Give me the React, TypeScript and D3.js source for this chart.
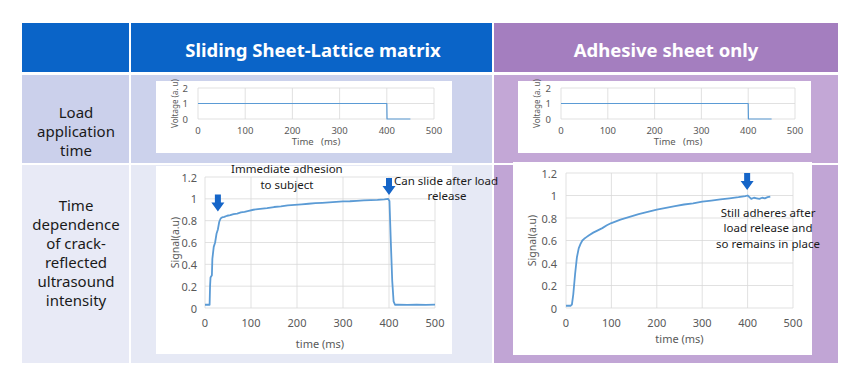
import React, { useRef, useEffect } from 'react';
import * as d3 from 'd3';

// ---- data ----
const timeTicks = [0, 100, 200, 300, 400, 500];
const voltageTicks = [0, 1, 2];
const signalTicks = [0, 0.2, 0.4, 0.6, 0.8, 1, 1.2];

const voltageTime = [0, 400, 400.5, 450];
const voltageValue = [1, 1, 0, 0];

const slidingTime = [0, 5, 10, 11, 12, 15, 16, 19, 22, 25, 28, 31, 34, 37, 42, 48, 55, 62, 70, 78, 86, 95, 105, 115, 125, 135, 150, 165, 180, 195, 210, 225, 240, 255, 270, 285, 300, 315, 330, 345, 360, 375, 390, 398, 401, 404, 407, 410, 413, 420, 440, 460, 480, 500];
const slidingValue = [0.03, 0.03, 0.03, 0.2, 0.28, 0.3, 0.45, 0.56, 0.6, 0.68, 0.72, 0.79, 0.82, 0.83, 0.835, 0.845, 0.85, 0.86, 0.865, 0.875, 0.88, 0.89, 0.9, 0.905, 0.91, 0.915, 0.925, 0.93, 0.94, 0.945, 0.95, 0.955, 0.96, 0.963, 0.967, 0.972, 0.976, 0.978, 0.982, 0.985, 0.988, 0.99, 0.995, 1.0, 0.98, 0.6, 0.25, 0.06, 0.03, 0.03, 0.028, 0.03, 0.028, 0.03];

const adhesiveTime = [0, 10, 13, 16, 20, 24, 28, 32, 36, 40, 45, 50, 60, 70, 80, 90, 100, 120, 140, 160, 180, 200, 220, 240, 260, 280, 300, 320, 340, 360, 380, 395, 400, 404, 408, 414, 420, 426, 432, 438, 444, 450];
const adhesiveValue = [0.02, 0.02, 0.03, 0.12, 0.3, 0.45, 0.53, 0.57, 0.6, 0.615, 0.63, 0.645, 0.67, 0.69, 0.71, 0.735, 0.755, 0.785, 0.81, 0.835, 0.855, 0.875, 0.89, 0.905, 0.92, 0.93, 0.945, 0.955, 0.965, 0.975, 0.985, 0.995, 1.0, 0.985, 0.97, 0.98, 0.975, 0.97, 0.98, 0.975, 0.985, 0.99];

// arrows: [time, tipValue]
const slidingArrows: [number, number][] = [[28, 0.885], [400, 1.035]];
const adhesiveArrows: [number, number][] = [[399, 1.05]];

// notes: [text, time, value, anchor]
const slidingNotes: [string, number, number, string][] = [
  ['Immediate adhesion', 178, 1.275, 'middle'],
  ['to subject', 178, 1.135, 'middle'],
  ['Can slide after load', 411, 1.165, 'start'],
  ['release', 526, 1.035, 'middle'],
];
const adhesiveNotes: [string, number, number, string][] = [
  ['Still adheres after', 445, 0.848, 'middle'],
  ['load release and', 445, 0.712, 'middle'],
  ['so remains in place', 445, 0.576, 'middle'],
];

const FONT = '"Noto Sans", "Open Sans", sans-serif';

interface ChartSpec {
  x0: number; x1: number; y0: number; y1: number;
  yMax: number;
  yTicks: number[];
  yFormat: (v: number) => string;
  times: number[];
  values: number[];
  tickSize: number;
  xTitle: string; xTitleY: number;
  yTitle: string; yTitleX: number; yTitleSize: number;
  xLabelY: number;
  yLabelGap: number;
  lineWidth: number;
  arrows?: [number, number][];
  notes?: [string, number, number, string][];
}

function drawChart(svg: d3.Selection<SVGSVGElement, unknown, null, undefined>, s: ChartSpec) {
  const g = svg.append('g');
  const x = d3.scaleLinear().domain([0, 500]).range([s.x0, s.x1]);
  const y = d3.scaleLinear().domain([0, s.yMax]).range([s.y0, s.y1]);

  // gridlines
  g.selectAll('.hg').data(s.yTicks).join('line')
    .attr('x1', s.x0).attr('x2', s.x1)
    .attr('y1', d => y(d)).attr('y2', d => y(d))
    .attr('stroke', '#d9d9d9').attr('stroke-width', 0.8);
  g.selectAll('.vg').data(timeTicks).join('line')
    .attr('x1', d => x(d)).attr('x2', d => x(d))
    .attr('y1', s.y0).attr('y2', s.y1)
    .attr('stroke', '#d9d9d9').attr('stroke-width', 0.8);

  // tick labels
  g.selectAll('.xl').data(timeTicks).join('text')
    .attr('x', d => x(d)).attr('y', s.xLabelY)
    .attr('text-anchor', 'middle').attr('dominant-baseline', 'central')
    .attr('font-size', s.tickSize).attr('fill', '#595959').attr('font-family', FONT)
    .text(d => String(d));
  g.selectAll('.yl').data(s.yTicks).join('text')
    .attr('x', s.x0 - s.yLabelGap).attr('y', d => y(d))
    .attr('text-anchor', 'end').attr('dominant-baseline', 'central')
    .attr('font-size', s.tickSize).attr('fill', '#595959').attr('font-family', FONT)
    .text(d => s.yFormat(d));

  // titles
  g.append('text')
    .attr('x', (s.x0 + s.x1) / 2).attr('y', s.xTitleY)
    .attr('text-anchor', 'middle').attr('dominant-baseline', 'central')
    .attr('font-size', s.tickSize).attr('fill', '#595959').attr('font-family', FONT)
    .attr('xml:space', 'preserve')
    .text(s.xTitle);
  g.append('text')
    .attr('transform', `translate(${s.yTitleX},${(s.y0 + s.y1) / 2}) rotate(-90)`)
    .attr('text-anchor', 'middle').attr('dominant-baseline', 'central')
    .attr('font-size', s.yTitleSize).attr('fill', '#595959').attr('font-family', FONT)
    .text(s.yTitle);

  // series
  const line = d3.line<number>()
    .x((_, i) => x(s.times[i]))
    .y(d => y(d));
  g.append('path')
    .datum(s.values)
    .attr('fill', 'none')
    .attr('stroke', '#5b9bd5')
    .attr('stroke-width', s.lineWidth)
    .attr('stroke-linejoin', 'round')
    .attr('d', line);

  // block arrows
  (s.arrows || []).forEach(([t, v]) => {
    const cx = x(t), tip = y(v);
    const p = d3.path();
    p.moveTo(cx - 3, tip - 17);
    p.lineTo(cx + 3, tip - 17);
    p.lineTo(cx + 3, tip - 9);
    p.lineTo(cx + 6.5, tip - 9);
    p.lineTo(cx, tip);
    p.lineTo(cx - 6.5, tip - 9);
    p.lineTo(cx - 3, tip - 9);
    p.closePath();
    g.append('path').attr('d', p.toString()).attr('fill', '#1565c8');
  });

  (s.notes || []).forEach(([txt, t, v, anchor]) => {
    g.append('text')
      .attr('x', x(t)).attr('y', y(v))
      .attr('text-anchor', anchor).attr('dominant-baseline', 'central')
      .attr('font-size', 11.5).attr('fill', '#1a1a1a').attr('font-family', FONT)
      .text(txt);
  });
}

const fmtInt = (v: number) => String(v);
const fmtSig = (v: number) => (v === 0 || v === 1 ? String(v) : d3.format('.1f')(v));

export default function App() {
  const ref = useRef<SVGSVGElement | null>(null);

  useEffect(() => {
    if (!ref.current) return;
    const svg = d3.select(ref.current);
    svg.selectAll('*').remove();

    // table background
    const cells: [number, number, number, number, string][] = [
      [22, 23, 107, 49, '#0a64c8'],
      [131, 23, 361, 49, '#0a64c8'],
      [494, 23, 344, 49, '#a47ebf'],
      [22, 75, 107, 88, '#cbd0eb'],
      [131, 75, 361, 88, '#ccd2ec'],
      [494, 75, 344, 88, '#c3a7d6'],
      [22, 165, 107, 198, '#e8eaf6'],
      [131, 165, 361, 198, '#e6e9f5'],
      [494, 165, 344, 198, '#c1a5d5'],
    ];
    svg.selectAll('.cell').data(cells).join('rect')
      .attr('x', d => d[0]).attr('y', d => d[1])
      .attr('width', d => d[2]).attr('height', d => d[3])
      .attr('fill', d => d[4]);

    // headers
    [['Sliding Sheet-Lattice matrix', 313], ['Adhesive sheet only', 666]].forEach(([t, cx]) => {
      svg.append('text')
        .attr('x', cx).attr('y', 49)
        .attr('text-anchor', 'middle').attr('dominant-baseline', 'central')
        .attr('font-size', 18.5).attr('font-weight', 'bold').attr('fill', '#ffffff')
        .attr('font-family', FONT)
        .text(t as string);
    });

    // row labels
    const rowLabels: [string[], number][] = [
      [['Load', 'application', 'time'], 112],
      [['Time', 'dependence', 'of crack-', 'reflected', 'ultrasound', 'intensity'], 205],
    ];
    rowLabels.forEach(([lines, top]) => {
      lines.forEach((ln, i) => {
        svg.append('text')
          .attr('x', 76).attr('y', top + i * 19)
          .attr('text-anchor', 'middle').attr('dominant-baseline', 'central')
          .attr('font-size', 15).attr('fill', '#1a1a1a').attr('font-family', FONT)
          .text(ln);
      });
    });

    // white chart panels
    const panels: [number, number, number, number][] = [
      [156, 81, 296, 72],
      [518, 81, 293, 72],
      [156, 166, 296, 188],
      [513, 162, 299, 193],
    ];
    svg.selectAll('.panel').data(panels).join('rect')
      .attr('x', d => d[0]).attr('y', d => d[1])
      .attr('width', d => d[2]).attr('height', d => d[3])
      .attr('fill', '#ffffff');

    const small = {
      yMax: 2, yTicks: voltageTicks, yFormat: fmtInt,
      times: voltageTime, values: voltageValue,
      tickSize: 9.5, xTitle: 'Time   (ms)', xTitleY: 141,
      yTitle: 'Voltage (a. u)', yTitleSize: 8, xLabelY: 130, yLabelGap: 10, lineWidth: 1.2,
      y0: 119, y1: 88,
    };
    drawChart(svg, { ...small, x0: 198, x1: 434, yTitleX: 174 });
    drawChart(svg, { ...small, x0: 561, x1: 795, yTitleX: 536 });

    const big = {
      yMax: 1.2, yTicks: signalTicks, yFormat: fmtSig,
      tickSize: 11, yTitleSize: 10.5, yTitle: 'Signal(a.u)', xTitle: 'time (ms)',
      xLabelY: 322, lineWidth: 1.8, y0: 308,
    };
    drawChart(svg, {
      ...big, x0: 205, x1: 435, y1: 177, yTitleX: 175, xTitleY: 343, yLabelGap: 8,
      times: slidingTime, values: slidingValue, arrows: slidingArrows, notes: slidingNotes,
    });
    drawChart(svg, {
      ...big, x0: 566, x1: 793, y1: 173, yTitleX: 532, xTitleY: 338, yLabelGap: 9,
      times: adhesiveTime, values: adhesiveValue, arrows: adhesiveArrows, notes: adhesiveNotes,
    });
  }, []);

  return (
    <svg
      ref={ref}
      width={860}
      height={386}
      style={{ position: 'absolute', left: 0, top: 0, background: '#ffffff' }}
    />
  );
}
